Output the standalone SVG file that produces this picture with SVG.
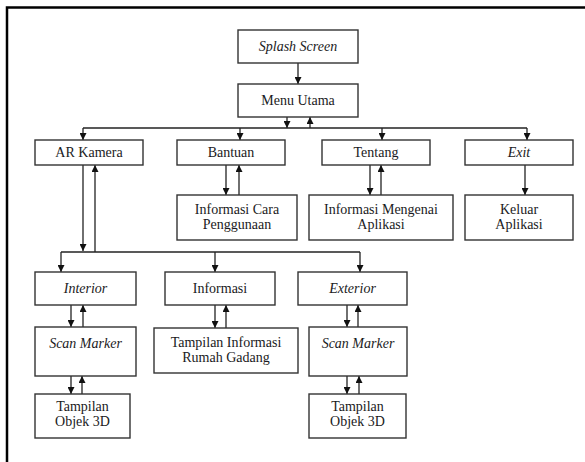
<svg xmlns="http://www.w3.org/2000/svg" width="585" height="462" viewBox="0 0 585 462">
  <defs>
    <marker id="arrow" viewBox="0 0 10 10" refX="10" refY="5" markerWidth="7" markerHeight="7" markerUnits="userSpaceOnUse" orient="auto">
      <path d="M0,0 L10,5 L0,10 Z" fill="#111"/>
    </marker>
    <style>
      .box rect { fill: #fff; stroke: #333; stroke-width: 1.4; }
      .box text { font-family: "Liberation Serif", "DejaVu Serif", serif; font-size: 14px; fill: #1a1a22; text-anchor: middle; }
      .box text.it { font-style: italic; }
      .conn path { fill: none; stroke: #222; stroke-width: 1.3; }
      .conn path.arr { marker-end: url(#arrow); }
      .frame { fill: none; stroke: #000; stroke-width: 2.5; }
    </style>
  </defs>

  <rect width="585" height="462" fill="#fff"/>

  <!-- page frame: top and left rules -->
  <path class="frame" d="M7,462 L7,7.5 L585,7.5"/>

  <!-- connectors -->
  <g id="connectors" class="conn">
    <path class="arr" d="M298,63 L298,84"/>
    <!-- menu bus -->
    <path class="arr" d="M287,117 L287,128"/>
    <path class="arr" d="M310,128 L310,117"/>
    <path d="M83,128 L527,128"/>
    <path class="arr" d="M83,128 L83,140"/>
    <path class="arr" d="M240,128 L240,140"/>
    <path class="arr" d="M382,128 L382,140"/>
    <path class="arr" d="M527,128 L527,140"/>
    <!-- second level -->
    <path class="arr" d="M226,165 L226,195"/>
    <path class="arr" d="M239,195 L239,165"/>
    <path class="arr" d="M370,165 L370,195"/>
    <path class="arr" d="M381,195 L381,165"/>
    <path class="arr" d="M525,165 L525,195"/>
    <!-- AR Kamera bus -->
    <path class="arr" d="M83,165 L83,251"/>
    <path class="arr" d="M95,252 L95,165"/>
    <path d="M61,252 L360,252"/>
    <path class="arr" d="M61,252 L61,272"/>
    <path class="arr" d="M215,252 L215,272"/>
    <path class="arr" d="M360,252 L360,272"/>
    <!-- interior chain -->
    <path class="arr" d="M71,305 L71,327"/>
    <path class="arr" d="M83,327 L83,305"/>
    <path class="arr" d="M71,376 L71,394"/>
    <path class="arr" d="M82,394 L82,376"/>
    <!-- informasi -->
    <path class="arr" d="M215,305 L215,328"/>
    <path class="arr" d="M226,328 L226,305"/>
    <!-- exterior chain -->
    <path class="arr" d="M347,305 L347,327"/>
    <path class="arr" d="M358,327 L358,305"/>
    <path class="arr" d="M347,376 L347,394"/>
    <path class="arr" d="M359,394 L359,376"/>
  </g>

  <g id="splash" class="box"><rect x="238" y="30" width="120" height="33"/><text class="it" x="298" y="51">Splash Screen</text></g>
  <g id="menu-utama" class="box"><rect x="238" y="84" width="120" height="33"/><text x="298" y="105">Menu Utama</text></g>

  <g id="ar-kamera" class="box"><rect x="35" y="140" width="108" height="25"/><text x="89" y="157">AR Kamera</text></g>
  <g id="bantuan" class="box"><rect x="177" y="140" width="108" height="25"/><text x="231" y="157">Bantuan</text></g>
  <g id="tentang" class="box"><rect x="322" y="140" width="108" height="25"/><text x="376" y="157">Tentang</text></g>
  <g id="exit" class="box"><rect x="465" y="140" width="108" height="25"/><text class="it" x="519" y="157">Exit</text></g>

  <g id="info-cara" class="box"><rect x="177" y="195" width="120" height="45"/><text x="237" y="214">Informasi Cara</text><text x="237" y="229">Penggunaan</text></g>
  <g id="info-aplikasi" class="box"><rect x="309" y="195" width="144" height="45"/><text x="381" y="214">Informasi Mengenai</text><text x="381" y="229">Aplikasi</text></g>
  <g id="keluar" class="box"><rect x="465" y="195" width="108" height="45"/><text x="519" y="214">Keluar</text><text x="519" y="229">Aplikasi</text></g>

  <g id="interior" class="box"><rect x="35" y="272" width="101" height="33"/><text class="it" x="85.5" y="293">Interior</text></g>
  <g id="informasi" class="box"><rect x="165" y="272" width="110" height="33"/><text x="220" y="293">Informasi</text></g>
  <g id="exterior" class="box"><rect x="298" y="272" width="109" height="33"/><text class="it" x="352.5" y="293">Exterior</text></g>

  <g id="scan-interior" class="box"><rect x="35" y="327" width="101" height="49"/><text class="it" x="85.5" y="348">Scan Marker</text></g>
  <g id="tampilan-info" class="box"><rect x="154" y="328" width="144" height="45"/><text x="226" y="347">Tampilan Informasi</text><text x="226" y="362">Rumah Gadang</text></g>
  <g id="scan-exterior" class="box"><rect x="309" y="327" width="98" height="49"/><text class="it" x="358" y="348">Scan Marker</text></g>

  <g id="objek-interior" class="box"><rect x="35" y="394" width="95" height="44"/><text x="82.5" y="411">Tampilan</text><text x="82.5" y="426">Objek 3D</text></g>
  <g id="objek-exterior" class="box"><rect x="309" y="394" width="97" height="44"/><text x="357.5" y="411">Tampilan</text><text x="357.5" y="426">Objek 3D</text></g>
</svg>
